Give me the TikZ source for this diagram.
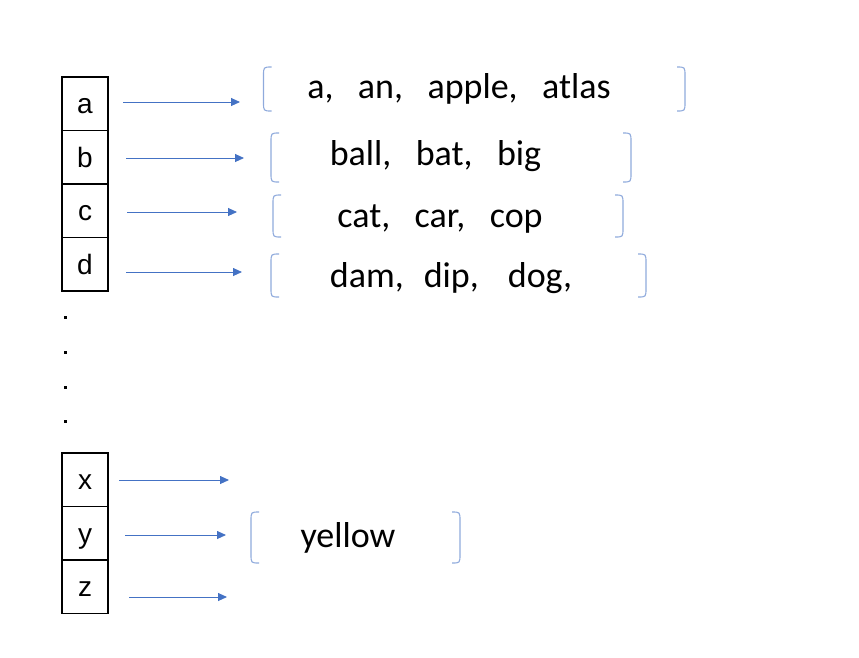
\documentclass[tikz,border=0pt]{standalone}
\usepackage{fontspec}
\setmainfont{Carlito}
\newfontfamily\cellfont{Liberation Sans}
\usetikzlibrary{positioning,arrows.meta}
\definecolor{arrowblue}{RGB}{68,114,196}
\definecolor{braceblue}{RGB}{143,170,220}
\tikzset{
  cell/.style={draw,line width=1.6pt,minimum width=46pt,minimum height=53.5pt,inner sep=0pt,outer sep=0pt,text height=20pt,text depth=0pt,font=\cellfont\fontsize{28}{32}\selectfont},
  link/.style={arrowblue,line width=0.9pt,-{Triangle[length=9pt,width=8pt]}},
  brace/.style={braceblue,line width=1.1pt},
  words/.style={anchor=base,inner sep=0pt,font=\fontsize{36}{40}\selectfont}
}
% left x, right x, top y, bottom y
\newcommand{\brk}[4]{%
  \draw[brace] (#1+8,#3) .. controls (#1,#3) .. (#1,#3+9) -- (#1,#4-9) .. controls (#1,#4) .. (#1+8,#4);
  \draw[brace] (#2-8,#3) .. controls (#2,#3) .. (#2,#3+9) -- (#2,#4-9) .. controls (#2,#4) .. (#2-8,#4);}
\begin{document}
\begin{tikzpicture}[x=1pt,y=-1pt]
	\useasboundingbox (0,0) rectangle (859,657);
	% table
	\node[cell] (a) at (85,103.75) {a};
	\node[cell,below=0pt of a] (b) {b};
	\node[cell,below=0pt of b] (c) {c};
	\node[cell,below=0pt of c] (d) {d};
	\foreach \yy in {317,352,387,421} \fill (63.5,\yy-1.5) rectangle ++(3,3);
	\node[cell] (x) at (85,479.75) {x};
	\node[cell,below=0pt of x] (y) {y};
	\node[cell,below=0pt of y] (z) {z};
	% pointers
	\foreach \n/\s/\ex/\ey in {a/15/240/102,b/18/244/158,c/19/237/212,d/18/242/272,x/11/229/480,y/17/226/535,z/21/227/597}
	{
		\coordinate (e\n) at (\ex,\ey);
		\draw[link,shorten <=\s pt] (\n.east |- e\n) -- (e\n);
	}
	% lists
	\node[words] (la) at (459,98) {a,\ \ \ an,\ \ \ apple,\ \ \ atlas};
	\node[words] (lb) at (435.5,165) {ball,\ \ \ bat,\ \ \ big};
	\node[words] (lc) at (440,227) {cat,\ \ \ car,\ \ \ cop};
	\node[words] (ld) at (451,287) {dam,\hspace{20pt}dip,\hspace{29pt}dog,};
	\node[words] (ly) at (348,547) {yellow};
	\brk{263.5}{685}{67}{111}
	\brk{271}{631}{133}{182}
	\brk{273}{623}{195}{237}
	\brk{271}{646}{254}{297}
	\brk{251}{460}{512}{563}
\end{tikzpicture}
\end{document}
